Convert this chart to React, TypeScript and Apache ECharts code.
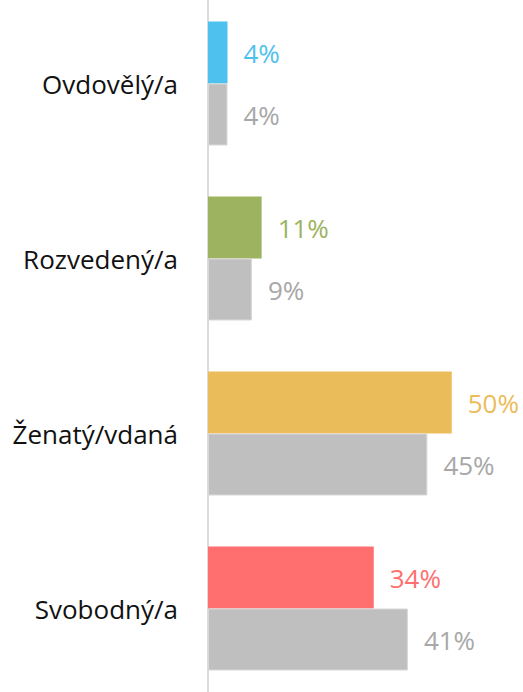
import React, { useEffect, useRef } from "react";
import * as echarts from "echarts";

const categories = ["Ovdovělý/a", "Rozvedený/a", "Ženatý/vdaná", "Svobodný/a"];
const mainValues = [4, 11, 50, 34];
const compareValues = [4, 9, 45, 41];
const mainColors = ["#4FC1EE", "#9DB35F", "#EBBC5A", "#FF6F6F"];
const grayColor = "#BFBFBF";
const grayLabel = "#A8A8A8";
const FONT = "'Open Sans', 'Noto Sans', sans-serif";

export default function App() {
  const ref = useRef<HTMLDivElement>(null);
  useEffect(() => {
    if (!ref.current) return;
    const chart = echarts.init(ref.current, null, { renderer: "svg" });
    chart.setOption({
      animation: false,
      grid: { left: 208, right: 3, top: 0, bottom: 0, containLabel: false },
      xAxis: {
        type: "value",
        min: 0,
        max: 64,
        show: false,
      },
      yAxis: {
        type: "category",
        inverse: true,
        data: categories,
        axisLine: { show: true, lineStyle: { color: "#DADADA", width: 2 } },
        axisTick: { show: false },
        axisLabel: {
          color: "#111",
          fontSize: 26,
          fontWeight: 400,
          fontFamily: FONT,
          margin: 30,
          padding: [0, 0, 4, 0],
        },
      },
      series: [
        {
          type: "bar",
          barWidth: 62,
          barGap: "0%",
          data: mainValues.map((v, i) => ({
            value: v,
            itemStyle: { color: mainColors[i] },
            label: { color: mainColors[i] },
          })),
          label: {
            show: true,
            position: "right",
            distance: 16,
            fontSize: 26,
            fontWeight: 400,
            fontFamily: FONT,
            formatter: "{c}%",
          },
        },
        {
          type: "bar",
          barWidth: 62,
          barGap: "0%",
          data: compareValues,
          itemStyle: { color: grayColor, borderColor: "#D8D8D8", borderWidth: 1 },
          label: {
            show: true,
            position: "right",
            distance: 16,
            fontSize: 26,
            fontWeight: 400,
            fontFamily: FONT,
            color: grayLabel,
            formatter: "{c}%",
          },
        },
      ],
    });
    return () => chart.dispose();
  }, []);
  return (
    <div
      ref={ref}
      style={{ position: "absolute", left: 0, top: -4, width: 523, height: 700 }}
    />
  );
}
